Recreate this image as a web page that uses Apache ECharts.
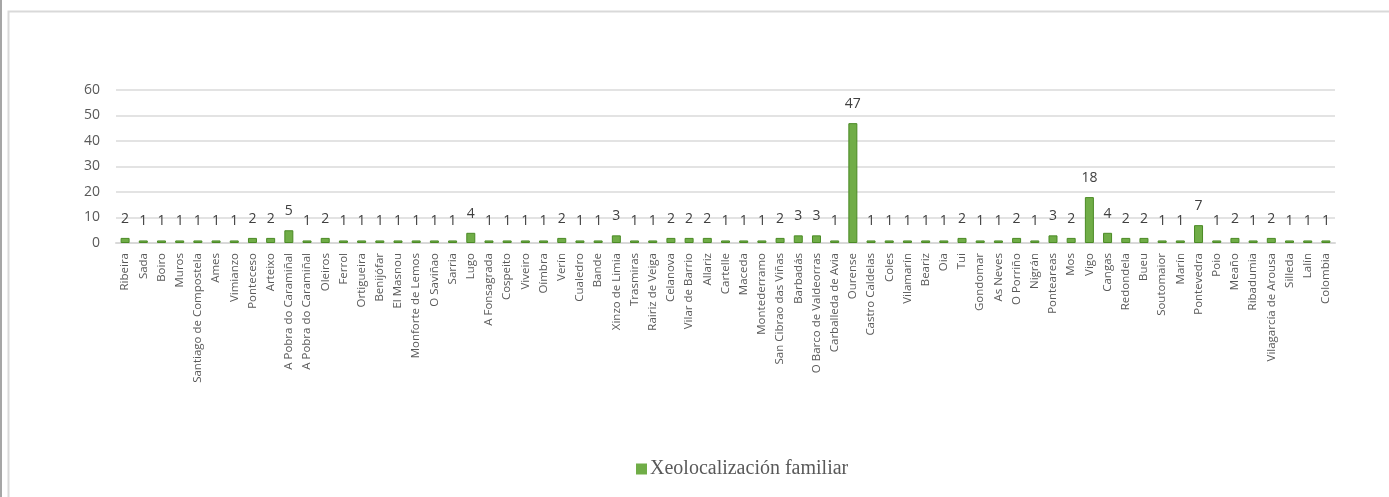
<!DOCTYPE html>
<html>
<head>
<meta charset="utf-8">
<script src="https://cdn.jsdelivr.net/npm/echarts@6/dist/echarts.min.js"></script>
<style>
  html, body { margin: 0; padding: 0; background: #fff; }
  #chart { width: 1389px; height: 497px; }
</style>
</head>
<body>
<div id="chart"></div>
<script>
// localidades e número de persoas
const places = [
  'Ribeira', 'Sada', 'Boiro', 'Muros', 'Santiago de Compostela', 'Ames', 'Vimianzo',
  'Ponteceso', 'Arteixo', 'A Pobra do Caramiñal', 'A Pobra do Caramiñal', 'Oleiros',
  'Ferrol', 'Ortigueira', 'Benijófar', 'El Masnou', 'Monforte de Lemos', 'O Saviñao',
  'Sarria', 'Lugo', 'A Fonsagrada', 'Cospeito', 'Viveiro', 'Oímbra', 'Verín',
  'Cualedro', 'Bande', 'Xinzo de Limia', 'Trasmiras', 'Rairiz de Veiga', 'Celanova',
  'Vilar de Barrio', 'Allariz', 'Cartelle', 'Maceda', 'Montederramo',
  'San Cibrao das Viñas', 'Barbadás', 'O Barco de Valdeorras', 'Carballeda de Avia',
  'Ourense', 'Castro Caldelas', 'Coles', 'Vilamarín', 'Beariz', 'Oia', 'Tui',
  'Gondomar', 'As Neves', 'O Porriño', 'Nigrán', 'Ponteareas', 'Mos', 'Vigo',
  'Cangas', 'Redondela', 'Bueu', 'Soutomaior', 'Marín', 'Pontevedra', 'Poio',
  'Meaño', 'Ribadumia', 'Vilagarcía de Arousa', 'Silleda', 'Lalín', 'Colombia'
];
const counts = [
  2, 1, 1, 1, 1, 1, 1, 2, 2, 5, 1, 2, 1, 1, 1, 1, 1, 1, 1, 4,
  1, 1, 1, 1, 2, 1, 1, 3, 1, 1, 2, 2, 2, 1, 1, 1, 2, 3, 3, 1,
  47, 1, 1, 1, 1, 1, 2, 1, 1, 2, 1, 3, 2, 18, 4, 2, 2, 1, 1, 7,
  1, 2, 1, 2, 1, 1, 1
];
const yTicks = { min: 0, max: 60, interval: 10 };

let myChart = echarts.init(document.getElementById('chart'));
myChart.setOption({
  animation: false,
  graphic: [
    { type: 'rect', shape: { x: 0, y: 0, width: 2, height: 497 }, style: { fill: '#a6a6a6' } },
    { type: 'rect', shape: { x: 8.5, y: 11.5, width: 1400, height: 500 },
      style: { fill: 'none', stroke: '#d9d9d9', lineWidth: 2 } }
  ],
  grid: {
    left: 116,
    right: 54,
    top: 90,
    height: 153
  },
  xAxis: {
    type: 'category',
    data: places,
    axisTick: { show: false },
    axisLine: { lineStyle: { color: '#d9d9d9', width: 2 } },
    axisLabel: {
      interval: 0,
      rotate: 90,
      fontFamily: 'Open Sans',
      fontSize: 11.5,
      color: '#595959',
      margin: 10
    }
  },
  yAxis: {
    type: 'value',
    min: yTicks.min,
    max: yTicks.max,
    interval: yTicks.interval,
    axisLine: { show: false },
    axisTick: { show: false },
    splitLine: { lineStyle: { color: '#e3e3e3', width: 2 } },
    axisLabel: {
      fontFamily: 'Open Sans',
      fontSize: 14,
      color: '#595959',
      margin: 16
    }
  },
  legend: {
    bottom: 13,
    left: 631,
    icon: 'rect',
    itemWidth: 11,
    itemHeight: 11,
    itemGap: 4,
    itemStyle: { borderWidth: 0 },
    textStyle: {
      fontFamily: 'Liberation Serif',
      fontSize: 20,
      color: '#595959',
      padding: [0, 0, 0, -2]
    }
  },
  series: [
    {
      name: 'Xeolocalización familiar',
      type: 'bar',
      data: counts,
      barWidth: 9,
      itemStyle: {
        color: '#70ad47',
        borderColor: '#4a8a25',
        borderWidth: 1
      },
      label: {
        show: true,
        position: 'top',
        distance: 12,
        fontFamily: 'Open Sans',
        fontSize: 14,
        color: '#404040'
      }
    }
  ]
});
</script>
</body>
</html>
